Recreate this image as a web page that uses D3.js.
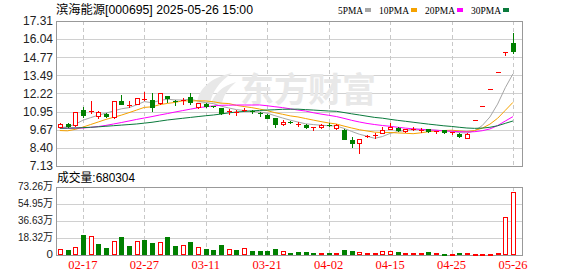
<!DOCTYPE html>
<html><head><meta charset="utf-8">
<script src="https://cdn.jsdelivr.net/npm/d3@7"></script>
<style>
html,body{margin:0;padding:0;background:#fff;}
svg{display:block;}
</style></head><body>
<svg id="c" width="578" height="276"></svg>
<script>
const title = "滨海能源[000695] 2025-05-26 15:00";
const dates = ["02-12","02-13","02-14","02-17","02-18","02-19","02-20","02-21","02-24","02-25","02-26","02-27","02-28",
"03-03","03-04","03-05","03-06","03-07","03-10","03-11","03-12","03-13","03-14","03-17","03-18","03-19","03-20","03-21","03-24","03-25","03-26","03-27","03-28","03-31",
"04-01","04-02","04-03","04-07","04-08","04-09","04-10","04-11","04-14","04-15","04-16","04-17","04-18","04-21","04-22","04-23","04-24","04-25","04-28","04-29",
"05-19","05-20","05-21","05-22","05-23","05-26"];
const open = [9.85,10.06,9.99,11.08,10.90,10.66,10.80,10.55,11.71,11.38, 11.48,11.74,11.74,11.53,12.04,11.69,11.72,11.95,11.25,11.46,
 11.34,11.22,10.97,10.92,10.99,11.01,10.83,10.71,10.52,10.06, 10.20,10.06,10.03,9.80,9.85,10.03,9.78,9.66,8.96,8.72,
 9.23,9.23,9.45,9.73,9.82,9.59,9.70,9.57,9.73,9.50, 9.66,9.43,9.40,9.10,10.34,11.37,12.51,13.76,15.14,15.74];
const high = [10.17,10.17,10.92,11.29,11.71,10.99,10.85,11.69,12.12,11.69, 11.93,12.35,12.23,12.25,12.04,11.78,11.88,12.23,11.55,11.55,
 11.36,11.22,11.13,11.06,11.22,11.03,10.90,10.76,10.52,10.36, 10.29,10.20,10.06,9.89,10.06,10.17,10.08,9.73,9.19,9.05,
 9.30,9.43,9.89,10.12,9.84,9.75,9.85,9.80,9.75,9.61, 9.68,9.52,9.45,9.45,10.34,11.37,12.51,13.76,15.14,16.50];
const low = [9.85,9.85,9.97,10.55,10.88,10.48,10.59,10.53,11.46,11.27, 11.46,11.74,10.99,11.50,11.64,11.41,11.46,11.46,11.22,11.25,
 11.27,10.78,10.76,10.69,10.97,10.87,10.66,10.48,9.89,10.04, 10.13,9.96,9.82,9.68,9.80,9.94,9.76,9.05,8.49,8.06,
 9.19,9.10,9.43,9.73,9.57,9.54,9.66,9.52,9.52,9.47, 9.47,9.40,9.17,9.08,10.34,11.37,12.51,13.76,14.92,15.04];
const close = [10.06,9.94,10.90,10.71,11.01,10.92,10.66,11.67,11.46,11.43, 11.88,11.81,11.29,12.23,11.88,11.64,11.76,11.62,11.53,11.34,
 11.29,10.85,11.01,10.94,11.04,10.90,10.76,10.52,10.10,10.22, 10.15,10.10,9.89,9.84,9.99,9.96,10.01,9.05,8.77,9.01,
 9.26,9.28,9.68,9.84,9.66,9.71,9.73,9.64,9.57,9.59, 9.50,9.50,9.24,9.40,10.34,11.37,12.51,13.76,15.14,15.22];
const volume = [64000,57000,86000,217000,203000,121000,78000,150000,196000,100000,
 150000,164000,132000,139000,196000,100000,110000,143000,86000,68000,
 57000,110000,64000,57000,75000,46000,46000,46000,68000,43000,
 22000,29000,29000,18000,18000,18000,18000,50000,39000,36000,
 25000,18000,47000,47000,29000,18000,25000,25000,29000,18000,
 8000,8000,18000,18000,8000,8000,8000,18000,412000,680304];
const volUp = [1,0,1,0,1,0,0,1,0,0, 1,0,0,1,0,0,1,0,1,0, 0,0,1,0,1,0,0,0,0,1,
 0,0,0,0,1,0,1,0,0,1, 1,1,1,1,0,1,1,1,0,1, 0,1,0,1,1,1,1,1,1,1];
// moving-average values before enough in-window closes exist
const ma5Lead = [9.82,9.88,10.06,10.34];
const ma10Lead = [9.62,9.60,9.70,9.86,10.04,10.22,10.40,10.55,10.70];
const ma20Lead = [9.78,9.78,9.79,9.80,9.84,9.90,9.98,10.08,10.18,10.29,10.40,10.50,10.60,10.71,10.81,10.92,11.02,11.12,11.22];
const ma30Lead = [9.78,9.79,9.80,9.82,9.85,9.88,9.92,9.96,10.00,10.04,10.08,10.14,10.20,10.28,10.36,10.42,10.48,10.54,10.60,
 10.66,10.71,10.78,10.86,10.92,10.96,11.00,11.03,11.06,11.08];
const priceTicks = [7.13,8.40,9.67,10.95,12.22,13.49,14.77,16.04,17.31];
const volTicks = [0,183150,366300,549450,732600];
const volTickLabels = ["0","18.32万","36.63万","54.95万","73.26万"];
const xTickLabels = ["02-17","02-27","03-11","03-21","04-02","04-15","04-25","05-26"];
const maNames = ["5PMA","10PMA","20PMA","30PMA"];
const maPeriods = [5,10,20,30];

// ---- styles / layout ----
const RED = "#ff0000", GREEN = "#008000";
const maColors = ["#a6a6a6","#f5a200","#ff00ff","#0a7a3c"];
const L = 56, R = 522, T1 = 21, B1 = 166, T2 = 186.8, B2 = 255;
const SANS = "'Liberation Sans','Noto Sans CJK SC',sans-serif";

function movingAvg(n, lead){
  return close.map((c,i) => i < n-1 ? lead[i] : d3.mean(close.slice(i-n+1, i+1)));
}
const maSeries = [movingAvg(5,ma5Lead), movingAvg(10,ma10Lead), movingAvg(20,ma20Lead), movingAvg(30,ma30Lead)];

const svg = d3.select("#c");
const x = d3.scaleBand().domain(dates).range([L, L + dates.length*7.68]);
const cx = d => x(d) + x.bandwidth()/2;
const px = d => Math.round(cx(d)) + 0.5;
const y = d3.scaleLinear().domain([priceTicks[0], priceTicks[priceTicks.length-1]]).range([B1, T1]);
const yv = d3.scaleLinear().domain([0, volTicks[volTicks.length-1]]).range([B2, T2]);

// grids
const grid = svg.append("g").attr("shape-rendering","crispEdges");
grid.selectAll(".hg").data(priceTicks).join("line")
  .attr("x1",L).attr("x2",R).attr("y1",d=>Math.round(y(d))+0.5).attr("y2",d=>Math.round(y(d))+0.5)
  .attr("stroke","#d0d0d0");
grid.selectAll(".hv").data(volTicks).join("line")
  .attr("x1",L).attr("x2",R).attr("y1",d=>Math.round(yv(d))+0.5).attr("y2",d=>Math.round(yv(d))+0.5)
  .attr("stroke","#d0d0d0");
[[T1,B1],[T2,B2]].forEach(([a,b])=>{
  grid.append("g").selectAll("line").data(xTickLabels).join("line")
    .attr("x1",d=>px(d)).attr("x2",d=>px(d)).attr("y1",a).attr("y2",b)
    .attr("stroke","#c8c8c8").attr("stroke-dasharray","4,3");
});

// watermark
const wm = svg.append("g").attr("fill","#e8e8e8");
wm.append("path").attr("d","M197,104 C198,90 209,78 232,73 C219,82 212,92 210,104 Z");
wm.append("path").attr("d","M211,104 C214,94 222,86 236,82 C228,89 223,96 222,104 Z");
wm.append("text").attr("x",240).attr("y",102).attr("font-size",34).attr("font-weight","bold")
  .attr("font-family","'Noto Sans CJK SC',sans-serif").text("东方财富");

// borders
svg.append("rect").attr("x",L+0.5).attr("y",Math.round(T1)+0.5).attr("width",R-L).attr("height",Math.round(B1)-Math.round(T1))
  .attr("fill","none").attr("stroke","#999").attr("shape-rendering","crispEdges");
svg.append("rect").attr("x",L+0.5).attr("y",Math.round(T2)+0.5).attr("width",R-L).attr("height",Math.round(B2)-Math.round(T2))
  .attr("fill","none").attr("stroke","#999").attr("shape-rendering","crispEdges");

// MA lines
const lineGen = d3.line().x((d,i)=>cx(dates[i])).y(d=>y(d));
svg.append("g").selectAll("path").data(maSeries).join("path")
  .attr("d", d=>lineGen(d)).attr("fill","none").attr("stroke",(d,i)=>maColors[i]).attr("stroke-width",1);

// candles
const idx = d3.range(dates.length);
const cg = svg.append("g").attr("shape-rendering","crispEdges");
const col = i => close[i] >= open[i] ? RED : GREEN;
cg.selectAll(".wick").data(idx).join("line")
  .attr("x1",i=>px(dates[i])).attr("x2",i=>px(dates[i]))
  .attr("y1",i=>Math.round(y(high[i]))).attr("y2",i=>Math.round(y(low[i]))+1)
  .attr("stroke",col);
idx.forEach(i=>{
  const c = px(dates[i]);
  const top = Math.round(y(Math.max(open[i],close[i])));
  const bot = Math.round(y(Math.min(open[i],close[i])));
  if (bot - top < 2) {
    cg.append("line").attr("x1",c-2.5).attr("x2",c+2.5).attr("y1",top+0.5).attr("y2",top+0.5).attr("stroke",col(i));
  } else {
    cg.append("rect").attr("x",c-2).attr("y",top+0.5).attr("width",4).attr("height",bot-top)
      .attr("fill", close[i] >= open[i] ? "#fff" : GREEN).attr("stroke",col(i));
  }
});

// volume bars
const vg = svg.append("g").attr("shape-rendering","crispEdges");
vg.selectAll("rect").data(idx).join("rect")
  .attr("x",i=>px(dates[i])-2).attr("y",i=>Math.round(yv(volume[i]))+0.5)
  .attr("width",4).attr("height",i=>Math.max(0.5, B2 - Math.round(yv(volume[i])) - 1))
  .attr("fill",i=>volUp[i] ? "#fff" : GREEN).attr("stroke",i=>volUp[i] ? RED : GREEN);

// axes
const ya = svg.append("g").attr("transform",`translate(${L},0)`)
  .call(d3.axisLeft(y).tickValues(priceTicks).tickFormat(d3.format(".2f")).tickSize(0).tickPadding(3));
ya.select(".domain").remove();
ya.selectAll("text").attr("font-family",SANS).attr("font-size",12).attr("fill","#222");
const va = svg.append("g").attr("transform",`translate(${L},-1)`)
  .call(d3.axisLeft(yv).tickValues(volTicks).tickFormat((d,i)=>volTickLabels[i]).tickSize(0).tickPadding(3));
va.select(".domain").remove();
va.selectAll("text").attr("font-family",SANS).attr("font-size",11.5).attr("fill","#222")
  .attr("textLength",d=>d ? 35 : null).attr("lengthAdjust","spacingAndGlyphs");
const xa = svg.append("g").attr("transform",`translate(0,${B2})`)
  .call(d3.axisBottom(x).tickValues(xTickLabels).tickSize(0).tickPadding(5));
xa.select(".domain").remove();
xa.selectAll("text").attr("font-family","'Liberation Serif',serif").attr("font-size",12.5).attr("fill",RED);

// title & legend
svg.append("text").attr("x",56).attr("y",14).attr("font-family",SANS).attr("font-size",12)
  .attr("textLength",197).attr("lengthAdjust","spacingAndGlyphs").attr("fill","#000").text(title);
const legX = [338,379,425,471], legW = [25,30,30,30];
const lg = svg.append("g");
maNames.forEach((n,i)=>{
  lg.append("text").attr("x",legX[i]).attr("y",13.5).attr("font-family","'Liberation Serif',serif").attr("font-size",11)
    .attr("textLength",legW[i]).attr("lengthAdjust","spacingAndGlyphs").attr("fill","#000").text(n);
  lg.append("rect").attr("x",legX[i]+legW[i]+2).attr("y",8).attr("width",6).attr("height",4).attr("fill",maColors[i]);
});
svg.append("text").attr("x",57).attr("y",182).attr("font-family",SANS).attr("font-size",12)
  .attr("textLength",78).attr("lengthAdjust","spacingAndGlyphs").attr("fill","#000")
  .text("成交量:" + volume[volume.length-1]);
</script>
</body></html>
